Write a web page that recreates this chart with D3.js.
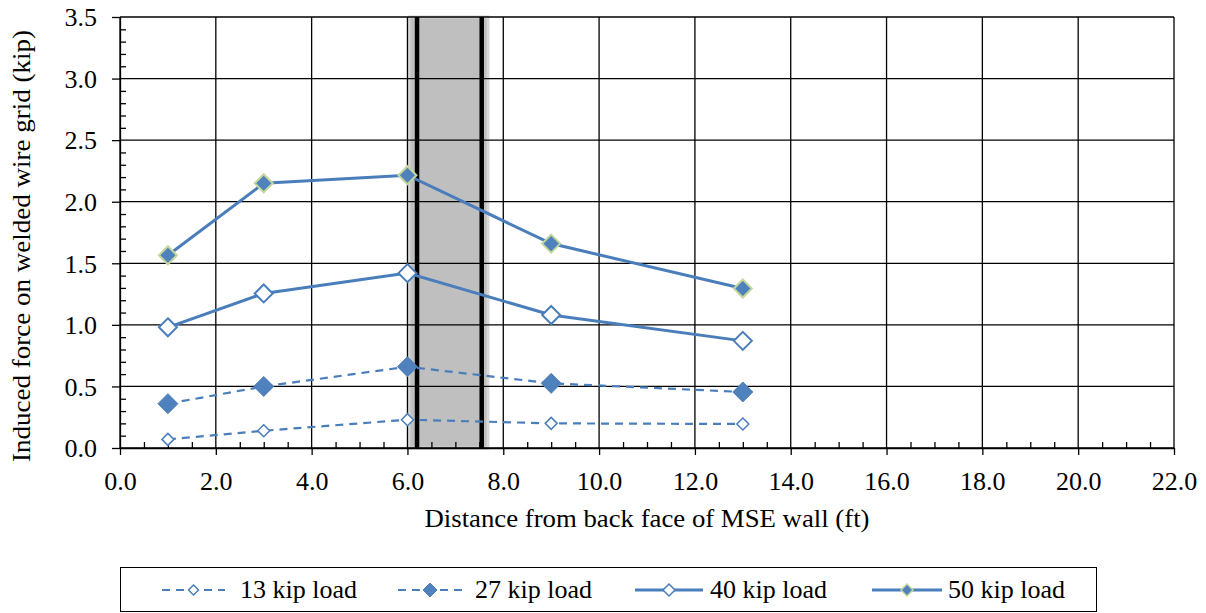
<!DOCTYPE html>
<html><head><meta charset="utf-8">
<script src="https://cdn.jsdelivr.net/npm/d3@7"></script>
<style>body{margin:0;background:#fff;}</style>
</head><body><svg id="c" width="1206" height="613"></svg>
<script>
const xs = [1, 3, 6, 9, 13];
const load13 = [0.07, 0.14, 0.23, 0.20, 0.195];
const load27 = [0.36, 0.50, 0.66, 0.525, 0.455];
const load40 = [0.98, 1.255, 1.42, 1.08, 0.87];
const load50 = [1.565, 2.15, 2.215, 1.66, 1.295];
const seriesNames = ["13 kip load", "27 kip load", "40 kip load", "50 kip load"];
const xTicks = d3.range(0, 22.01, 2);
const yTicks = d3.range(0, 3.51, 0.5);
const band = [6.03, 7.68];
const bandLines = [6.2, 7.55];

const FONT = "Liberation Serif";
const svg = d3.select("#c");
const x = d3.scaleLinear().domain([0, 22]).range([120, 1174]);
const y = d3.scaleLinear().domain([0, 3.5]).range([448, 17]);
const blue = "#4a7ebb";

// band
svg.append("rect").attr("x", x(band[0])).attr("y", y(3.5)).attr("width", x(band[1]) - x(band[0]))
  .attr("height", y(0) - y(3.5)).attr("fill", "#bfbfbf").attr("stroke", "#d6d6d6").attr("stroke-width", 3);

// grid
const g = svg.append("g");
g.selectAll("line.v").data(xTicks).join("line").attr("x1", d => x(d)).attr("x2", d => x(d))
  .attr("y1", y(0)).attr("y2", y(3.5)).attr("stroke", "#000").attr("stroke-width", 1.3);
g.selectAll("line.h").data(yTicks).join("line").attr("x1", x(0)).attr("x2", x(22))
  .attr("y1", d => y(d)).attr("y2", d => y(d)).attr("stroke", "#000").attr("stroke-width", 1.3);

// band lines
svg.selectAll("line.bl").data(bandLines).join("line").attr("x1", d => x(d)).attr("x2", d => x(d))
  .attr("y1", y(0)).attr("y2", y(3.5)).attr("stroke", "#000").attr("stroke-width", 4.5);

// axes
const xAxis = d3.axisBottom(x).tickValues(xTicks).tickFormat(d3.format(".1f")).tickSize(7).tickSizeOuter(0);
const gx = svg.append("g").attr("transform", `translate(0,${y(0)})`).call(xAxis);
gx.attr("font-family", FONT).attr("font-size", 26);
gx.select(".domain").attr("stroke-width", 1.3);
gx.selectAll(".tick line").attr("stroke-width", 1.3);
gx.selectAll("text").attr("font-family", FONT).attr("font-size", 26).style("font-family", FONT)
  .attr("fill", "#000").attr("dy", null).attr("y", 42);
const xMinor = d3.axisBottom(x).tickValues(d3.range(0, 22.01, 0.5).filter(v => v % 2 !== 0)).tickSize(-6).tickFormat("");
const gxm = svg.append("g").attr("transform", `translate(0,${y(0)})`).call(xMinor);
gxm.select(".domain").remove();
gxm.selectAll(".tick line").attr("stroke-width", 1.3);

const yAxis = d3.axisLeft(y).tickValues(yTicks).tickFormat(d3.format(".1f")).tickSize(8).tickSizeOuter(0);
const gy = svg.append("g").attr("transform", `translate(${x(0)},0)`).call(yAxis);
gy.attr("font-family", FONT).attr("font-size", 26);
gy.select(".domain").attr("stroke-width", 1.3);
gy.selectAll(".tick line").attr("stroke-width", 1.3);
gy.selectAll("text").attr("font-family", FONT).attr("font-size", 26).style("font-family", FONT)
  .attr("fill", "#000").attr("x", -23).attr("dy", "0.34em");
const yMinor = d3.axisLeft(y).tickValues(d3.range(0, 35).map(i => i / 10).filter(v => Math.round(v * 10) % 5 !== 0)).tickSize(-6).tickFormat("");
const gym = svg.append("g").attr("transform", `translate(${x(0)},0)`).call(yMinor);
gym.select(".domain").remove();
gym.selectAll(".tick line").attr("stroke-width", 1.3);

// titles
svg.append("text").attr("x", 647).attr("y", 527).attr("text-anchor", "middle")
  .attr("font-family", FONT).attr("font-size", 26)
  .attr("textLength", 445).attr("lengthAdjust", "spacingAndGlyphs")
  .text("Distance from back face of MSE wall (ft)");
svg.append("text").attr("transform", "translate(30,246) rotate(-90)").attr("text-anchor", "middle")
  .attr("font-family", FONT).attr("font-size", 26)
  .attr("textLength", 432).attr("lengthAdjust", "spacingAndGlyphs")
  .text("Induced force on welded wire grid (kip)");

// series
const specs = [
  {vals: load13, dash: "8,6", sw: 2.2, size: 6, fill: "#fff", stroke: blue, msw: 1.5},
  {vals: load27, dash: "8,6", sw: 2.2, size: 10, fill: "#4f81bd", stroke: "#4f81bd", msw: 1},
  {vals: load40, dash: null, sw: 3, size: 9, fill: "#fff", stroke: blue, msw: 2},
  {vals: load50, dash: null, sw: 3, size: 9, fill: "#4f81bd", stroke: "#c3d69b", msw: 2}
];
const line = d3.line().x(d => x(d[0])).y(d => y(d[1]));
const diamond = (cx, cy, s) => `M${cx},${cy - s}L${cx + s},${cy}L${cx},${cy + s}L${cx - s},${cy}Z`;
specs.forEach(sp => {
  const pts = xs.map((v, i) => [v, sp.vals[i]]);
  svg.append("path").attr("d", line(pts)).attr("fill", "none").attr("stroke", blue)
    .attr("stroke-width", sp.sw).attr("stroke-dasharray", sp.dash);
  svg.append("g").selectAll("path").data(pts).join("path")
    .attr("d", d => diamond(x(d[0]), y(d[1]), sp.size))
    .attr("fill", sp.fill).attr("stroke", sp.stroke).attr("stroke-width", sp.msw);
});

// legend
svg.append("rect").attr("x", 120.5).attr("y", 567.5).attr("width", 976).attr("height", 44)
  .attr("fill", "#fff").attr("stroke", "#000").attr("stroke-width", 1);
const legX = [[162, 225, 240], [398, 462, 475], [635, 703, 710], [872, 942, 948]];
const legSize = [5, 7, 6, 6];
seriesNames.forEach((n, i) => {
  const sp = specs[i], ly = 590;
  const [a, b, t] = legX[i];
  svg.append("line").attr("x1", a).attr("x2", b).attr("y1", ly).attr("y2", ly).attr("stroke", blue)
    .attr("stroke-width", sp.sw).attr("stroke-dasharray", sp.dash);
  svg.append("path").attr("d", diamond((a + b) / 2, ly, legSize[i])).attr("fill", sp.fill)
    .attr("stroke", sp.stroke).attr("stroke-width", Math.min(sp.msw, 1.5));
  svg.append("text").attr("x", t).attr("y", ly + 8).attr("font-family", FONT).attr("font-size", 26).text(n);
});
</script></body></html>
